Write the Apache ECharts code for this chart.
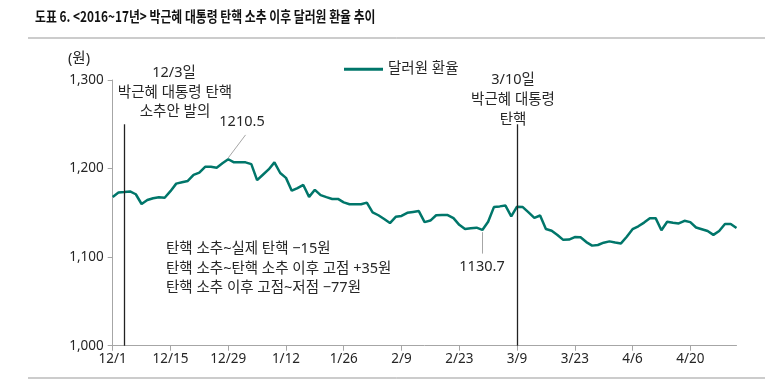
<!DOCTYPE html>
<html>
<head>
<meta charset="utf-8">
<script src="https://cdn.jsdelivr.net/npm/echarts@6/dist/echarts.min.js"></script>
<style>
html,body{margin:0;padding:0;background:#fff;}
#chart{width:765px;height:380px;}
</style>
</head>
<body>
<div id="chart"></div>
<script>
var categories = [
 '12/1','12/2','12/5','12/6','12/7','12/8','12/9','12/12','12/13','12/14','12/15','12/16','12/19','12/20','12/21','12/22','12/23','12/26','12/27','12/28','12/29','12/30',
 '1/2','1/3','1/4','1/5','1/6','1/9','1/10','1/11','1/12','1/13','1/16','1/17','1/18','1/19','1/20','1/23','1/24','1/25','1/26','1/27','1/30','1/31',
 '2/1','2/2','2/3','2/6','2/7','2/8','2/9','2/10','2/13','2/14','2/15','2/16','2/17','2/20','2/21','2/22','2/23','2/24','2/27','2/28',
 '3/1','3/2','3/3','3/6','3/7','3/8','3/9','3/10','3/13','3/14','3/15','3/16','3/17','3/20','3/21','3/22','3/23','3/24','3/27','3/28','3/29','3/30','3/31',
 '4/3','4/4','4/5','4/6','4/7','4/10','4/11','4/12','4/13','4/14','4/17','4/18','4/19','4/20','4/21','4/24','4/25','4/26','4/27','4/28',
 '5/1','5/2'
];
var usdkrw = [
 1168,1173,1173.5,1174.2,1171,1160,1164.5,1166.5,1167.5,1167,1174.5,1183,1184.5,1186,1192.8,1195.5,1202,1202,1201,1206,1210.5,1207,
 1207,1207,1205,1187,1193,1199,1207,1195,1189.5,1175,1178,1181.5,1168,1176,1170,1167.8,1165.7,1165.7,1161.8,1159.7,1159.7,1159.7,
 1161.5,1150.6,1147.3,1143,1138.5,1145.5,1146.5,1150,1151,1152,1139.5,1141.3,1147.3,1147.7,1147.5,1144,1136.5,1131.7,1132.5,1133.3,
 1130.7,1140,1156.5,1157.3,1158.2,1146,1157,1156.5,1150.5,1144.3,1147,1131.7,1129.8,1125,1119.5,1119.8,1122.7,1122.5,1117,1113,1113.7,1116.3,1117.8,
 1116.5,1115.5,1123,1131.5,1134.8,1139,1144,1144,1130.4,1140,1138.8,1138,1141,1139.5,1133.5,1131.5,1129.5,1125.1,1129.5,1137.5,
 1137.5,1133
];
var yTicks = [1000, 1100, 1200, 1300];
var seriesName = '달러원 환율';
var eventLines = [
  {idx: 2, top: 1250},
  {idx: 70, top: 1250}
];
var peakIdx = 20, troughIdx = 64;

var FONT = "'Noto Sans', 'Noto Sans CJK KR', sans-serif";
var chart = echarts.init(document.getElementById('chart'), null, {renderer: 'canvas'});

function txt(x, y, s, opt) {
  opt = opt || {};
  var el = {
    type: 'text', x: x, y: y, silent: true,
    style: {
      text: s, fill: opt.fill || '#262626',
      align: opt.align || 'center', verticalAlign: 'middle',
      font: (opt.weight || 'normal') + ' ' + (opt.size || 14.5) + 'px ' + (opt.family || FONT)
    }
  };
  if (opt.scaleX) { el.scaleX = opt.scaleX; }
  return el;
}

var option = {
  animation: false,
  backgroundColor: '#fff',
  grid: {left: 112.7, right: 28.5, top: 80, bottom: 34.3, containLabel: false},
  legend: {
    data: [seriesName], left: 344, top: 62, padding: 0, icon: 'rect', itemWidth: 39, itemHeight: 3, itemGap: 5,
    textStyle: {fontSize: 14.5, color: '#262626', fontFamily: FONT, padding: [0, 0, 0, 0]}
  },
  xAxis: {
    type: 'category', data: categories, boundaryGap: false,
    axisLine: {lineStyle: {color: '#a6a6a6', width: 1}},
    axisTick: {show: true, interval: 9, length: 5, lineStyle: {color: '#a6a6a6'}},
    axisLabel: {interval: 9, color: '#262626', fontSize: 13.5, fontFamily: FONT, margin: 7},
    splitLine: {show: false}
  },
  yAxis: {
    type: 'value', min: yTicks[0], max: yTicks[yTicks.length - 1], interval: 100,
    axisLine: {show: true, lineStyle: {color: '#a6a6a6', width: 1}},
    axisTick: {show: true, length: 5, lineStyle: {color: '#a6a6a6'}},
    axisLabel: {color: '#262626', fontSize: 13.5, fontFamily: FONT, margin: 9,
      formatter: function (v) { return v.toLocaleString('en-US'); }},
    splitLine: {show: false}
  },
  series: [{
    name: seriesName, type: 'line', data: usdkrw, showSymbol: false, symbol: 'none',
    lineStyle: {color: '#00766A', width: 2.5}, itemStyle: {color: '#00766A'},
    markLine: {
      silent: true, symbol: ['none', 'none'], animation: false,
      label: {show: false},
      data: [
        [{coord: [eventLines[0].idx, eventLines[0].top], lineStyle: {color: '#222', width: 1.3, type: 'solid'}}, {coord: [eventLines[0].idx, 1000]}],
        [{coord: [eventLines[1].idx, eventLines[1].top], lineStyle: {color: '#222', width: 1.3, type: 'solid'}}, {coord: [eventLines[1].idx, 1000]}],
        [{coord: [peakIdx, usdkrw[peakIdx] + 1.5], lineStyle: {color: '#a6a6a6', width: 1, type: 'solid'}}, {coord: [peakIdx + 2.6, 1238]}],
        [{coord: [troughIdx, usdkrw[troughIdx] - 2.5], lineStyle: {color: '#a6a6a6', width: 1, type: 'solid'}}, {coord: [troughIdx - 0.1, 1104]}]
      ]
    }
  }],
  graphic: [
    txt(35, 16, '도표 6. <2016~17년> 박근혜 대통령 탄핵 소추 이후 달러원 환율 추이', {align: 'left', weight: 'bold', size: 15, fill: '#111', family: "'Noto Sans CJK KR', sans-serif", scaleX: 0.79}),
    {type: 'line', silent: true, shape: {x1: 28, y1: 38, x2: 765, y2: 38}, style: {stroke: '#999', lineWidth: 1}},
    {type: 'line', silent: true, shape: {x1: 28, y1: 378, x2: 765, y2: 378}, style: {stroke: '#999', lineWidth: 1}},
    txt(79, 59, '(원)'),
    txt(174, 73, '12/3일'),
    txt(175, 93, '박근혜 대통령 탄핵'),
    txt(175, 112, '소추안 발의'),
    txt(242, 122, String(usdkrw[peakIdx])),
    txt(513, 80, '3/10일'),
    txt(513, 100, '박근혜 대통령'),
    txt(513, 120, '탄핵'),
    txt(482, 267, String(usdkrw[troughIdx])),
    txt(166, 249, '탄핵 소추~실제 탄핵 −15원', {align: 'left'}),
    txt(166, 269, '탄핵 소추~탄핵 소추 이후 고점 +35원', {align: 'left'}),
    txt(166, 288, '탄핵 소추 이후 고점~저점 −77원', {align: 'left'})
  ]
};
chart.setOption(option);
</script>
</body>
</html>
